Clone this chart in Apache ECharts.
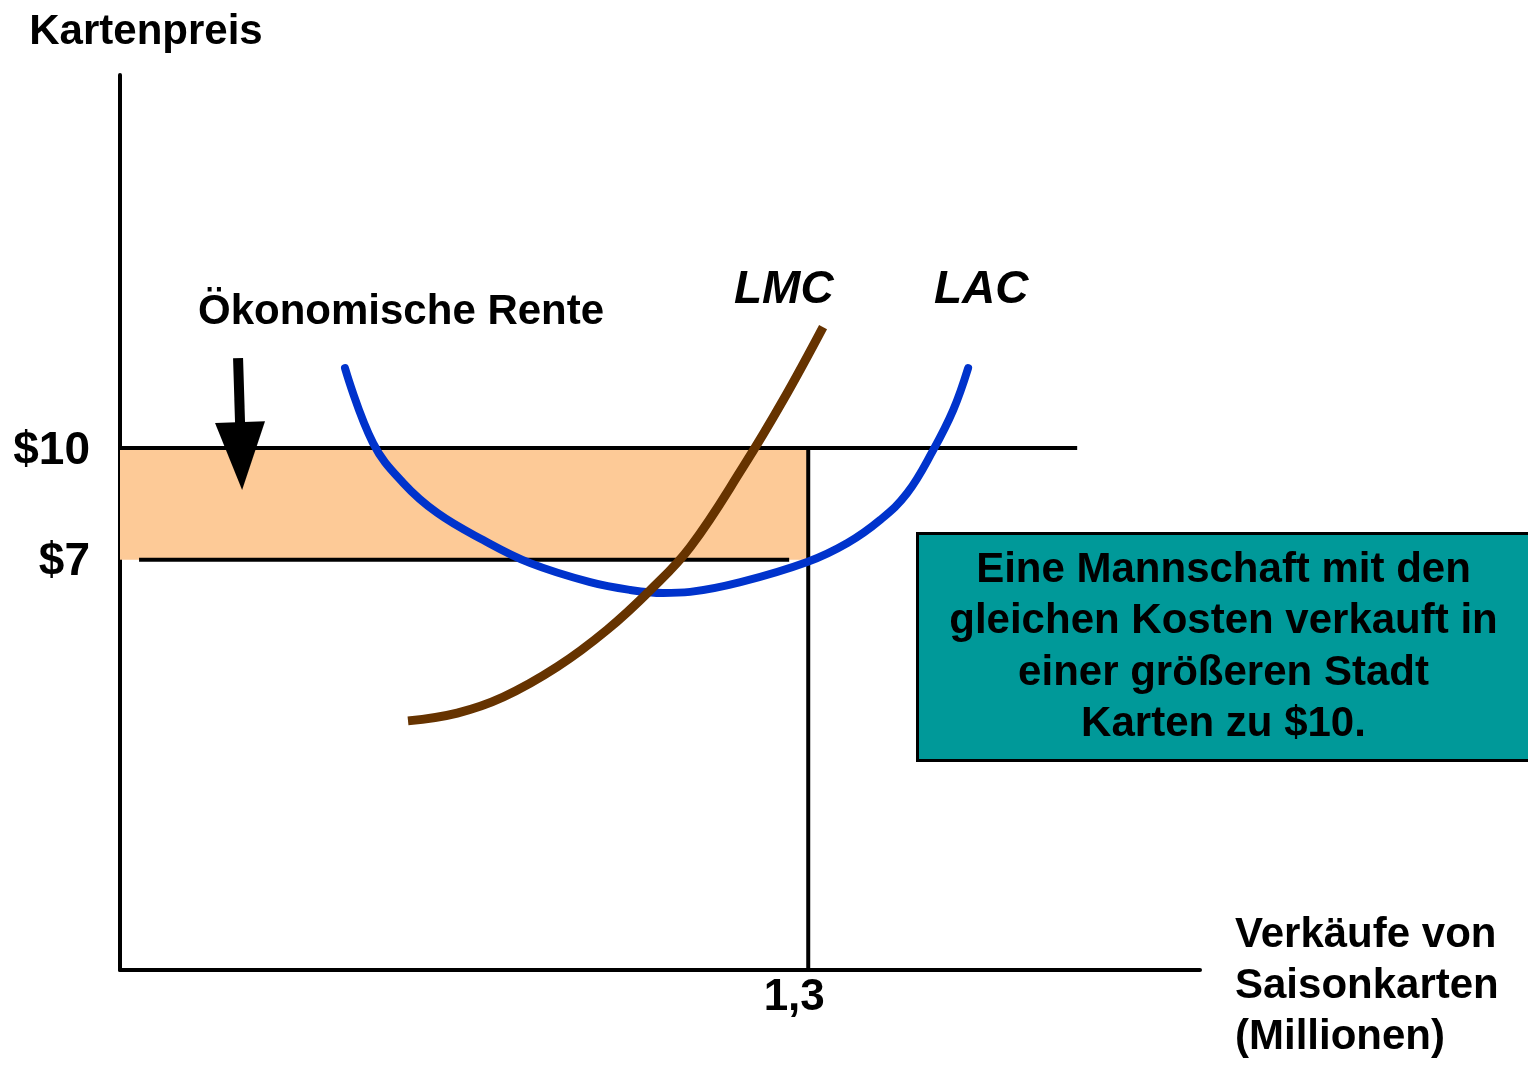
<!DOCTYPE html>
<html>
<head>
<meta charset="utf-8">
<title>Ökonomische Rente</title>
<script src="https://cdn.jsdelivr.net/npm/echarts@6/dist/echarts.min.js"></script>
<style>
  html, body { margin: 0; padding: 0; background: #fff; }
  #chart { width: 1528px; height: 1067px; }
</style>
</head>
<body>
<div id="chart"></div>
<script>
// Achsen-Beschriftungen
var xTicks = [1.3];
var xTickLabels = ['1,3'];
var yTicks = [10, 7];
var yTickLabels = ['$10', '$7'];

// Kurven (Menge in Mio., Preis)
var lacData = [
  [0.425, 12.14], [0.478, 10.13], [0.535, 9.06], [0.599, 8.26], [0.686, 7.53],
  [0.775, 6.91], [0.888, 6.40], [0.964, 6.19], [1.026, 6.11], [1.077, 6.14],
  [1.172, 6.40], [1.298, 6.94], [1.374, 7.45], [1.436, 8.07], [1.487, 8.79],
  [1.536, 9.94], [1.574, 11.02], [1.602, 12.14]
];
var lmcData = [
  [0.544, 2.68], [0.637, 2.89], [0.724, 3.32], [0.826, 4.13], [0.920, 5.12],
  [1.002, 6.19], [1.077, 7.34], [1.177, 9.49], [1.253, 11.29], [1.328, 13.24]
];

// Preis- und Mengenlinien
var price10Line = [[0, 10], [1.808, 10]];
var price7Line = [[0.036, 7], [1.264, 7]];
var qtyLine = [[1.3, -4], [1.3, 10]];
var renteArea = [[0, 7], [1.3, 10]];
var arrowLine = [[0.223, 12.41], [0.2287, 9.78]];

var font = '"Liberation Sans", Arial, sans-serif';

function pickLabel(ticks, labels, v) {
  for (var i = 0; i < ticks.length; i++) {
    if (Math.abs(ticks[i] - v) < 1e-6) return labels[i];
  }
  return '';
}

var chart = echarts.init(document.getElementById('chart'));

var option = {
  backgroundColor: '#fff',
  animation: false,
  textStyle: { fontFamily: font },
  grid: { left: 120, right: 328, top: 75, bottom: 97, outerBoundsMode: 'none' },
  xAxis: {
    type: 'value',
    min: 0,
    max: 2.04,
    axisLine: { show: true, onZero: false, lineStyle: { color: '#000', width: 4 } },
    axisTick: { show: false },
    splitLine: { show: false },
    axisLabel: {
      customValues: xTicks,
      margin: 6,
      fontFamily: font, fontSize: 44, fontWeight: 'bold', color: '#000',
      padding: [0, 28, 0, 0],
      formatter: function (v) { return pickLabel(xTicks, xTickLabels, v); }
    }
  },
  yAxis: {
    type: 'value',
    min: -4,
    max: 20,
    name: 'Kartenpreis',
    nameLocation: 'end',
    nameGap: 22,
    nameTextStyle: {
      fontFamily: font, fontSize: 42, fontWeight: 'bold', color: '#000',
      align: 'center', padding: [0, 0, 0, 52]
    },
    axisLine: { show: true, onZero: false, lineStyle: { color: '#000', width: 4 } },
    axisTick: { show: false },
    splitLine: { show: false },
    axisLabel: {
      customValues: yTicks,
      margin: 30,
      verticalAlign: 'top',
      lineHeight: 6,
      fontFamily: font, fontSize: 46, fontWeight: 'bold', color: '#000',
      formatter: function (v) { return pickLabel(yTicks, yTickLabels, v); }
    }
  },
  series: [
    {
      name: 'Rente',
      type: 'line',
      data: [],
      silent: true,
      markArea: {
        silent: true,
        itemStyle: { color: '#fdca97' },
        data: [[{ coord: renteArea[0] }, { coord: renteArea[1] }]]
      },
      markLine: {
        silent: true,
        symbol: ['none', 'triangle'],
        symbolSize: [50, 68],
        label: { show: false },
        lineStyle: { color: '#000', width: 10, type: 'solid' },
        data: [[{ coord: arrowLine[0] }, { coord: arrowLine[1] }]]
      }
    },
    {
      name: 'P10', type: 'line', data: price10Line, symbol: 'none', silent: true,
      lineStyle: { color: '#000', width: 4 }
    },
    {
      name: 'P7', type: 'line', data: price7Line, symbol: 'none', silent: true,
      lineStyle: { color: '#000', width: 4 }
    },
    {
      name: 'Q', type: 'line', data: qtyLine, symbol: 'none', silent: true,
      lineStyle: { color: '#000', width: 4 }
    },
    {
      name: 'LAC', type: 'line', data: lacData, symbol: 'none', smooth: 0.4, silent: true,
      lineStyle: { color: '#0033cc', width: 8, cap: 'round' }
    },
    {
      name: 'LMC', type: 'line', data: lmcData, symbol: 'none', smooth: 0.4, silent: true,
      lineStyle: { color: '#663300', width: 9 }
    }
  ],
  graphic: [
    {
      type: 'text', left: 1235, top: 910,
      style: {
        text: 'Verkäufe von\nSaisonkarten\n(Millionen)',
        font: 'bold 42px ' + font, fill: '#000', lineHeight: 51
      }
    },
    {
      type: 'text', left: 198, top: 291,
      style: { text: 'Ökonomische Rente', font: 'bold 42px ' + font, fill: '#000' }
    },
    {
      type: 'text', left: 734, top: 267,
      style: { text: 'LMC', font: 'italic bold 46px ' + font, fill: '#000' }
    },
    {
      type: 'text', left: 934, top: 267,
      style: { text: 'LAC', font: 'italic bold 46px ' + font, fill: '#000' }
    },
    {
      type: 'group', left: 916, top: 532,
      children: [
        {
          type: 'rect',
          shape: { x: 0, y: 0, width: 640, height: 227 },
          style: { fill: '#009999', stroke: '#000', lineWidth: 3 }
        },
        {
          type: 'text', x: 306, y: 114,
          style: {
            text: 'Eine Mannschaft mit den\ngleichen Kosten verkauft in\neiner größeren Stadt\nKarten zu $10.',
            font: 'bold 42px ' + font, fill: '#000',
            align: 'center', verticalAlign: 'middle', lineHeight: 51.5
          }
        }
      ]
    }
  ]
};

chart.setOption(option);
</script>
</body>
</html>
